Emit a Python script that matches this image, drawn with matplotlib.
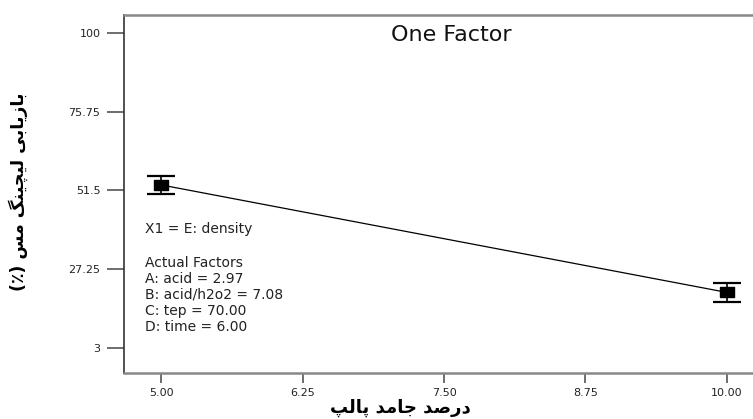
"""One Factor plot (Design-Expert style) - recovery vs. pulp solid percent."""

import matplotlib

matplotlib.use("Agg")
import matplotlib.pyplot as plt
from matplotlib.path import Path as MPath


# data
solid_percent = [5.00, 10.00]
recovery = [53.2, 20.1]
recovery_err = [2.85, 2.8]

x_ticks = [5.00, 6.25, 7.50, 8.75, 10.00]
x_tick_labels = ["5.00", "6.25", "7.50", "8.75", "10.00"]
y_ticks = [3, 27.25, 51.5, 75.75, 100]
y_tick_labels = ["3", "27.25", "51.5", "75.75", "100"]

title = "One Factor"
x_label = "درصد جامد پالپ"
y_label = "بازیابی لیچینگ مس (٪)"
factor_line = "X1 = E: density"
actual_factors = [
    "Actual Factors",
    "A: acid = 2.97",
    "B: acid/h2o2 = 7.08",
    "C: tep = 70.00",
    "D: time = 6.00",
]


# matplotlib has no arabic shaping, so pick presentation forms by hand
# (isolated, final, initial, medial)
FORMS = {
    "ا": ("\ufe8d", "\ufe8e", None, None),
    "د": ("\ufea9", "\ufeaa", None, None),
    "ر": ("\ufead", "\ufeae", None, None),
    "ز": ("\ufeaf", "\ufeb0", None, None),
    "ب": ("\ufe8f", "\ufe90", "\ufe91", "\ufe92"),
    "پ": ("\ufb56", "\ufb57", "\ufb58", "\ufb59"),
    "ج": ("\ufe9d", "\ufe9e", "\ufe9f", "\ufea0"),
    "چ": ("\ufb7a", "\ufb7b", "\ufb7c", "\ufb7d"),
    "س": ("\ufeb1", "\ufeb2", "\ufeb3", "\ufeb4"),
    "ص": ("\ufeb9", "\ufeba", "\ufebb", "\ufebc"),
    "گ": ("\ufb92", "\ufb93", "\ufb94", "\ufb95"),
    "ل": ("\ufedd", "\ufede", "\ufedf", "\ufee0"),
    "م": ("\ufee1", "\ufee2", "\ufee3", "\ufee4"),
    "ن": ("\ufee5", "\ufee6", "\ufee7", "\ufee8"),
    "ی": ("\ufbfc", "\ufbfd", "\ufbfe", "\ufbff"),
}
MIRROR = {"(": ")", ")": "("}


def shape_rtl(text: str) -> str:
    out = []
    for i, ch in enumerate(text):
        if ch not in FORMS:
            out.append(MIRROR.get(ch, ch))
            continue
        prev = text[i - 1] if i > 0 else ""
        nxt = text[i + 1] if i + 1 < len(text) else ""
        joins_prev = prev in FORMS and FORMS[prev][2] is not None
        joins_next = FORMS[ch][2] is not None and nxt in FORMS
        iso, fin, ini, med = FORMS[ch]
        if joins_prev and joins_next:
            out.append(med)
        elif joins_prev:
            out.append(fin)
        elif joins_next:
            out.append(ini)
        else:
            out.append(iso)
    return "".join(reversed(out))


def main() -> None:
    plt.rcParams["font.family"] = ["DejaVu Sans"]

    fig = plt.figure(figsize=(7.53, 4.19), dpi=100)
    ax = fig.add_axes([0.1647, 0.1098, 0.8353, 0.8544])

    ax.set_xlim(4.673, 10.23)
    ax.set_ylim(-4.7, 105.5)

    # connecting line
    ax.plot(solid_percent, recovery, color="black", lw=0.9, zorder=2)

    # error bars: black stem, gray caps
    _, caps, stems = ax.errorbar(
        solid_percent,
        recovery,
        yerr=recovery_err,
        fmt="none",
        ecolor="black",
        elinewidth=1.2,
        capsize=10,
        capthick=1.6,
        zorder=3,
    )
    for cap in caps:
        cap.set_color("#777777")

    rect = MPath([(-1, -0.62), (1, -0.62), (1, 0.62), (-1, 0.62), (-1, -0.62)])
    ax.plot(
        solid_percent,
        recovery,
        ls="none",
        marker=rect,
        markersize=10.5,
        color="black",
        zorder=4,
    )

    ax.set_xticks(x_ticks)
    ax.set_xticklabels(x_tick_labels)
    ax.set_yticks(y_ticks)
    ax.set_yticklabels(y_tick_labels)
    ax.tick_params(axis="y", length=12, width=1.2, color="#555555",
                   pad=5, labelsize=8, labelcolor="#222222")
    ax.tick_params(axis="x", length=7, width=1.2, color="#555555",
                   pad=4, labelsize=8, labelcolor="#222222")

    ax.spines["right"].set_visible(False)
    ax.spines["left"].set_color("#333333")
    ax.spines["left"].set_linewidth(1.2)
    for side in ("top", "bottom"):
        ax.spines[side].set_color("#888888")
        ax.spines[side].set_linewidth(1.8)

    ax.text(0.52, 0.944, title, transform=ax.transAxes, ha="center",
            va="center", fontsize=16, color="#111111")

    ax.text(0.034, 0.402, factor_line, transform=ax.transAxes, ha="left",
            va="center", fontsize=10, color="#222222")
    ax.text(0.034, 0.328, "\n".join(actual_factors), transform=ax.transAxes,
            ha="left", va="top", fontsize=10, color="#222222",
            linespacing=1.19)

    fig.text(18 / 753, 1 - 192 / 419, shape_rtl(y_label), rotation=90,
             ha="center", va="center", fontsize=12.5, fontweight="bold")
    fig.text(400 / 753, 1 - 408 / 419, shape_rtl(x_label), ha="center",
             va="center", fontsize=13, fontweight="bold")

    fig.savefig("out.png", dpi=100)
    plt.close(fig)


if __name__ == "__main__":
    main()
